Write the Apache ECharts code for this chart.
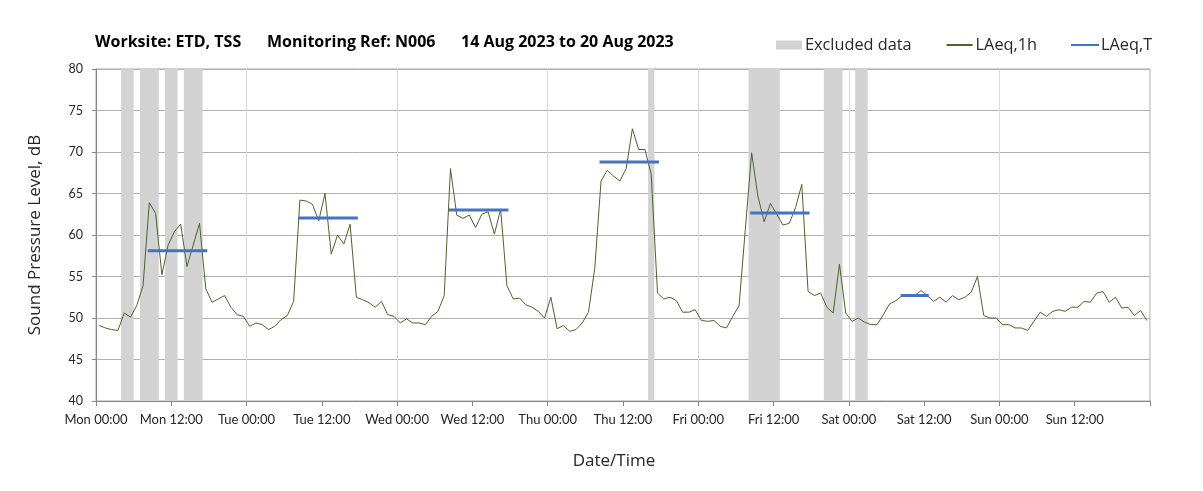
<!DOCTYPE html>
<html>
<head>
<meta charset="utf-8">
<script src="https://cdn.jsdelivr.net/npm/echarts@6/dist/echarts.min.js"></script>
<style>
html,body{margin:0;padding:0;background:#fff;}
#chart{width:1203px;height:491px;}
</style>
</head>
<body>
<div id="chart"></div>
<script>
// ---- Data ----
const xTickLabels = ['Mon 00:00','Mon 12:00','Tue 00:00','Tue 12:00','Wed 00:00','Wed 12:00',
  'Thu 00:00','Thu 12:00','Fri 00:00','Fri 12:00','Sat 00:00','Sat 12:00','Sun 00:00','Sun 12:00'];

// Hourly LAeq,1h values (dB), one per hour starting Mon 00:00
const laeq1h = [
  49.1,48.8,48.6,48.5,50.6,50.1,51.5,53.9,63.9,62.6,55.2,58.8,60.4,61.3,56.2,58.8,61.4,53.5,51.9,52.3,52.7,51.3,50.4,50.2,
  49.0,49.4,49.2,48.6,49.0,49.8,50.3,52.0,64.2,64.1,63.7,61.7,65.0,57.7,60.0,58.9,61.3,52.5,52.2,51.85,51.3,52.0,50.4,50.2,
  49.4,49.9,49.4,49.4,49.2,50.2,50.8,52.7,68.0,62.4,62.0,62.4,60.9,62.5,62.8,60.1,63.1,53.9,52.3,52.4,51.6,51.3,50.8,50.0,
  52.5,48.7,49.1,48.4,48.6,49.4,50.7,56.0,66.5,67.8,67.1,66.5,68.0,72.8,70.3,70.3,67.3,53.0,52.3,52.5,52.1,50.7,50.7,51.0,
  49.7,49.6,49.7,49.0,48.8,50.2,51.5,60.7,69.9,64.7,61.6,63.8,62.5,61.2,61.4,63.3,66.1,53.2,52.7,53.0,51.3,50.6,56.5,50.6,
  49.6,50.0,49.5,49.2,49.2,50.4,51.7,52.1,52.7,52.7,52.7,53.3,52.7,52.0,52.5,51.9,52.7,52.2,52.5,53.1,55.0,50.3,50.0,50.0,
  49.2,49.2,48.8,48.8,48.5,49.6,50.7,50.2,50.8,51.0,50.8,51.3,51.3,52.0,51.9,53.0,53.2,51.9,52.5,51.2,51.3,50.3,50.9,49.7
];

// LAeq,T periods (hours from Mon 00:00) and levels
const laeqTStart = [8.5, 32.5, 56.5, 80.5, 104.5, 128.5];
const laeqTEnd   = [17.5, 41.5, 65.5, 89.5, 113.5, 132.5];
const laeqTValue = [58.1, 62.05, 63.0, 68.8, 62.65, 52.7];

// Excluded data periods (hours from Mon 00:00)
const excludedStart = [4, 7, 11, 14, 88, 104, 116, 121];
const excludedEnd   = [6, 10, 13, 17, 89, 109, 119, 123];

const yMin = 40, yMax = 80;

// ---- Build series data ----
const lineData = laeq1h.map((v, i) => [i + 0.5, v]);
const tData = [];
laeqTStart.forEach((s, i) => {
  tData.push([s, laeqTValue[i]]);
  tData.push([laeqTEnd[i], laeqTValue[i]]);
  tData.push([laeqTEnd[i] + 0.01, '-']);
});
const exData = excludedStart.map((s, i) => [s, excludedEnd[i]]);

const FONT = 'Lato';
const WFONT = 'Open Sans';
const titleStyle = {fontFamily: WFONT, fontWeight: 'bold', fontSize: 16, color: '#000'};
const chart = echarts.init(document.getElementById('chart'), null, {renderer: 'canvas'});
chart.setOption({
  backgroundColor: '#ffffff',
  animation: false,
  textStyle: {fontFamily: FONT},
  title: [
    {text: 'Worksite: ETD, TSS', left: 95, top: 34, padding: 0, textStyle: titleStyle},
    {text: 'Monitoring Ref: N006', left: 267, top: 34, padding: 0, textStyle: titleStyle},
    {text: '14 Aug 2023 to 20 Aug 2023', left: 461, top: 34, padding: 0, textStyle: titleStyle}
  ],
  legend: {
    left: 776, top: 37, padding: 0,
    itemWidth: 26, itemHeight: 9, itemGap: 34,
    textStyle: {fontFamily: WFONT, fontSize: 16.3, color: '#262626', padding: [0,0,0,-2]},
    data: [
      {name: 'Excluded data', icon: 'rect'},
      {name: 'LAeq,1h', itemStyle: {opacity: 0}},
      {name: 'LAeq,T', itemStyle: {opacity: 0}}
    ]
  },
  grid: {left: 96, right: 53, top: 69, bottom: 90, show: true, borderColor: '#a6a6a6', borderWidth: 1},
  xAxis: [
    {
      type: 'value', min: 0, max: 168, interval: 12,
      name: 'Date/Time', nameLocation: 'middle', nameGap: 52,
      nameTextStyle: {fontFamily: WFONT, fontSize: 17, color: '#262626', padding: [0, 18, 0, 0]},
      axisLine: {lineStyle: {color: '#868686'}},
      axisTick: {show: true, length: 5, lineStyle: {color: '#868686'}},
      axisLabel: {
        fontFamily: FONT, fontSize: 13, color: '#262626', margin: 12,
        showMaxLabel: true,
        formatter: v => { const k = Math.round(v / 12); return k < xTickLabels.length ? xTickLabels[k] : ''; }
      },
      splitLine: {show: false}
    },
    {
      type: 'value', min: 0, max: 168, interval: 24, position: 'top',
      axisLine: {show: false}, axisTick: {show: false}, axisLabel: {show: false},
      splitLine: {show: true, lineStyle: {color: '#d9d9d9', width: 1}}
    }
  ],
  yAxis: {
    type: 'value', min: yMin, max: yMax, interval: 5,
    name: 'Sound Pressure Level, dB', nameLocation: 'middle', nameGap: 52,
    nameTextStyle: {fontFamily: WFONT, fontSize: 17, color: '#262626'},
    axisLine: {show: true, lineStyle: {color: '#868686'}},
    axisTick: {show: true, length: 4, lineStyle: {color: '#868686'}},
    axisLabel: {fontFamily: FONT, fontSize: 12.5, color: '#262626', margin: 13},
    splitLine: {show: true, lineStyle: {color: '#b0b0b0', width: 1}}
  },
  series: [
    {
      name: 'Excluded data', type: 'custom', xAxisIndex: 0,
      itemStyle: {color: '#d3d3d3'},
      encode: {x: [0, 1]},
      data: exData,
      z: 1,
      renderItem: (params, api) => {
        const a = api.coord([api.value(0), yMax]);
        const b = api.coord([api.value(1), yMin]);
        return {type: 'rect', shape: {x: a[0], y: a[1], width: b[0] - a[0], height: b[1] - a[1]},
                style: {fill: '#d3d3d3'}};
      }
    },
    {
      name: 'LAeq,1h', type: 'line', xAxisIndex: 0, data: lineData,
      symbol: 'none', z: 3,
      itemStyle: {color: '#4f6228'},
      lineStyle: {color: '#4f6228', width: 1}
    },
    {
      name: 'LAeq,T', type: 'line', xAxisIndex: 0, data: tData,
      symbol: 'none', connectNulls: false, z: 4,
      itemStyle: {color: '#4472c4'},
      lineStyle: {color: '#4472c4', width: 3, cap: 'square'}
    }
  ]
});
</script>
</body>
</html>
